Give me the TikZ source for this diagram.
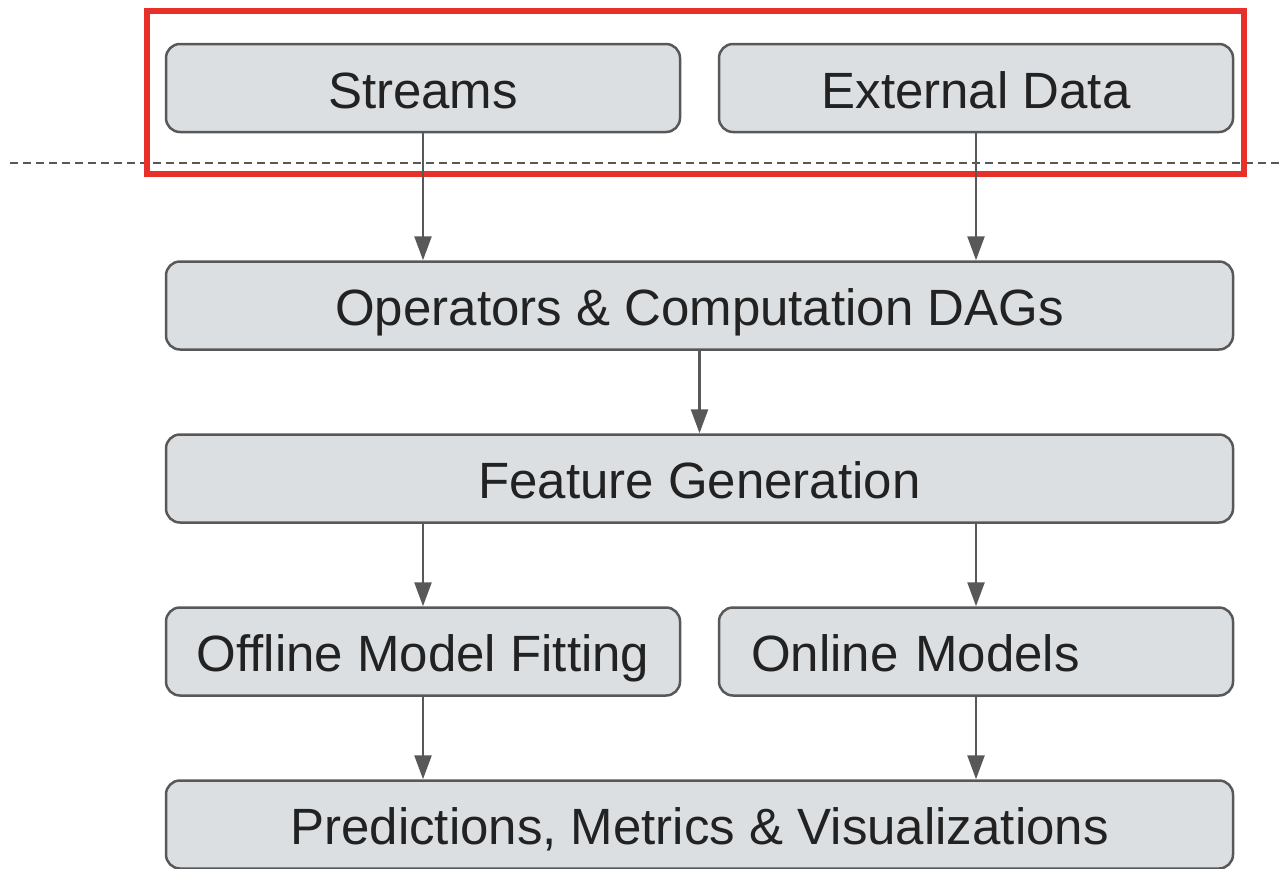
\documentclass[tikz,border=0pt]{standalone}
\usepackage{fontspec}
\setmainfont{Liberation Sans}
\usetikzlibrary{arrows.meta}
\definecolor{boxfill}{HTML}{DCDFE2}
\definecolor{boxline}{HTML}{585858}
\definecolor{txt}{HTML}{222222}
\definecolor{redframe}{HTML}{E8302A}
\tikzset{
  box/.style={draw=boxline, line width=2.5pt, fill=boxfill, rounded corners=14pt,
    minimum height=88pt, inner sep=0pt, text height=50pt, text depth=10pt,
    text=txt, font=\fontsize{51}{60}\selectfont},
  halfbox/.style={box, minimum width=514pt},
  fullbox/.style={box, minimum width=1067pt},
  flow/.style={draw=boxline, line width=2.5pt, -{Triangle[length=24pt,width=17pt]}},
  sep/.style={draw=boxline, line width=2.4pt, dash pattern=on 8pt off 5pt},
}
\begin{document}
\begin{tikzpicture}[x=1pt,y=-1pt]
\useasboundingbox (0,0) rectangle (1281,868);
% separator line
\coordinate (sepL) at (10,163);
\coordinate (sepR) at (1281,163);
\draw[sep] (sepL) -- (sepR);
% boxes
\node[halfbox] (streams) at (423,88) {Streams};
\node[halfbox] (ext) at (976,88) {External Data};
\node[fullbox] (ops) at (699.5,305.5) {Operators \& Computation DAGs};
\node[fullbox] (feat) at (699.5,478.5) {Feature Generation};
\node[halfbox] (off) at (423,651.5) {Offline Model Fitting};
\node[halfbox, text width=450pt, align=left, inner xsep=32pt] (on) at (976,651.5) {Online Models};
\node[fullbox] (pred) at (699.5,824.5) {Predictions, Metrics \& Visualizations};
% red frame
\node[draw=redframe, line width=6pt, minimum width=1097pt, minimum height=163pt, inner sep=0pt] (frame) at (695.5,92.5) {};
% arrows
\draw[flow] (streams.south) -- (streams.south |- ops.north);
\draw[flow] (ext.south) -- (ext.south |- ops.north);
\draw[flow] (ops.south) -- (feat.north);
\draw[flow] (feat.south -| off.south) -- (off.north);
\draw[flow] (feat.south -| on.south) -- (on.north);
\draw[flow] (off.south) -- (off.south |- pred.north);
\draw[flow] (on.south) -- (on.south |- pred.north);
\end{tikzpicture}
\end{document}
